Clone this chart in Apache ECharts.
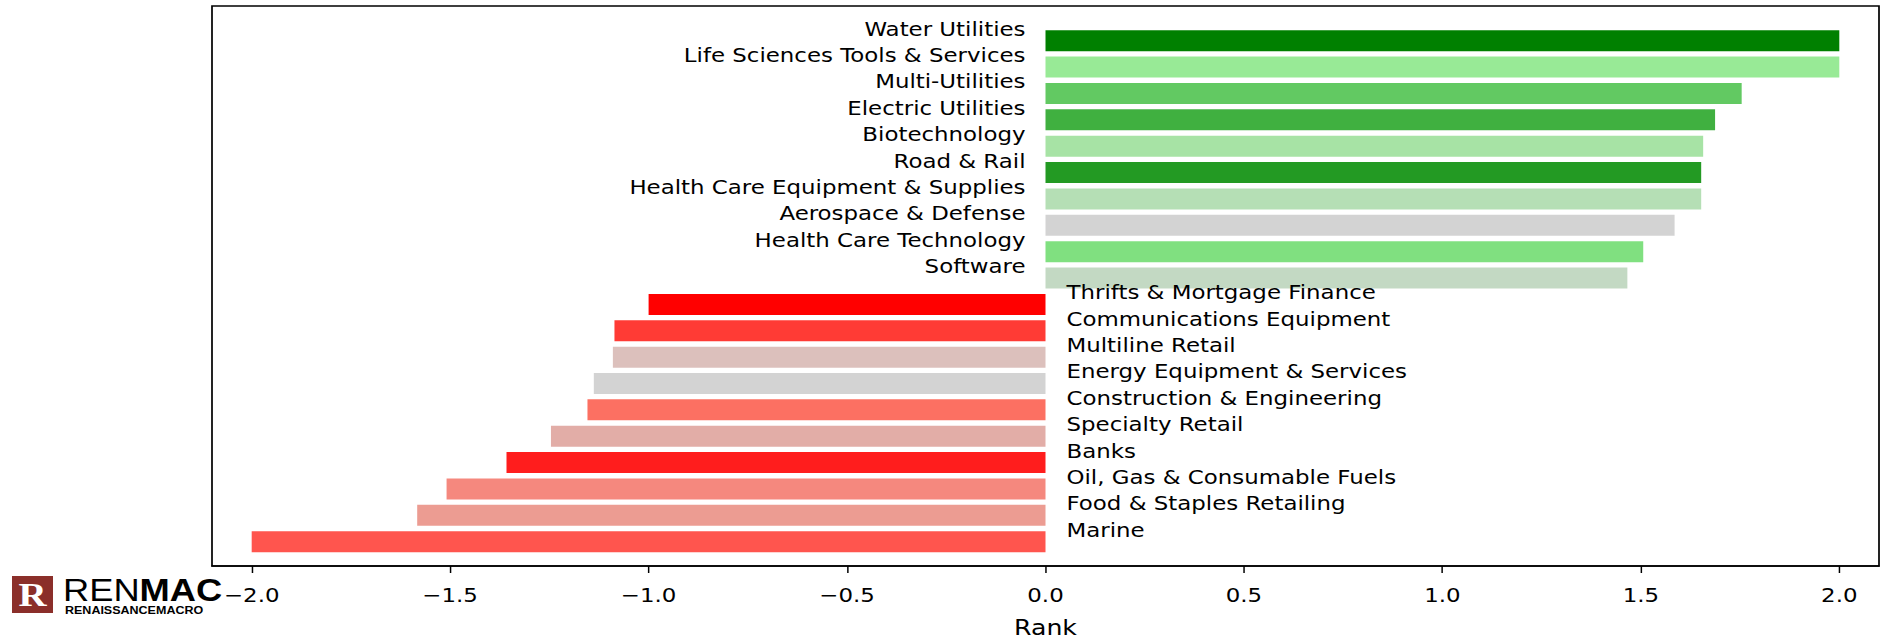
<!DOCTYPE html>
<html>
<head>
<meta charset="utf-8">
<script src="https://cdn.jsdelivr.net/npm/echarts@6/dist/echarts.min.js"></script>
<style>
html,body{margin:0;padding:0;background:#fff;overflow:hidden;}
#wrap{width:1887px;height:644px;overflow:hidden;}
#chart{height:644px;transform-origin:0 0;}
</style>
</head>
<body>
<div id="wrap"><div id="chart"></div></div>
<script>
const categories = [
  'Water Utilities', 'Life Sciences Tools & Services', 'Multi-Utilities', 'Electric Utilities',
  'Biotechnology', 'Road & Rail', 'Health Care Equipment & Supplies', 'Aerospace & Defense',
  'Health Care Technology', 'Software',
  'Thrifts & Mortgage Finance', 'Communications Equipment', 'Multiline Retail',
  'Energy Equipment & Services', 'Construction & Engineering', 'Specialty Retail', 'Banks',
  'Oil, Gas & Consumable Fuels', 'Food & Staples Retailing', 'Marine'
];
const rankValues = [
  2.0, 2.0, 1.754, 1.687, 1.657, 1.652, 1.652, 1.585, 1.506, 1.466,
  -1.0, -1.086, -1.09, -1.138, -1.154, -1.246, -1.358, -1.509, -1.583, -2.0
];
const barColors = [
  '#008000', '#98EA96', '#62C962', '#40B040', '#A7E3A5', '#239A23', '#B5DFB5', '#D3D3D3', '#80E080', '#C3D9C3',
  '#FF0000', '#FF3B35', '#DCC0BC', '#D3D3D3', '#FC7062', '#E2ADA7', '#FF1D1D', '#F5887E', '#EC9C92', '#FF554E'
];
const tickValues = [-2.0, -1.5, -1.0, -0.5, 0.0, 0.5, 1.0, 1.5, 2.0];
const axisName = 'Rank';

// The reference picture is horizontally stretched; reproduce by scaling the drawing in x.
const SX = 1.145;
const W = 1887 / SX;
const el = document.getElementById('chart');
el.style.width = W + 'px';
el.style.transform = 'scaleX(' + SX + ')';

const FONT = 'DejaVu Sans';
const chart = echarts.init(el, null, {renderer: 'svg', width: W, height: 644});
const px = v => v / SX;

const barData = rankValues.map((v, i) => ({
  value: v,
  itemStyle: {color: barColors[i]},
  label: v >= 0
    ? {show: true, position: 'left', distance: px(20), offset: [0, -12]}
    : {show: true, position: 'right', distance: px(21), offset: [0, -12]}
}));

chart.setOption({
  animation: false,
  backgroundColor: '#fff',
  grid: [
    {left: px(212), right: px(8), top: 27.5, bottom: 89.1, show: false},
    {left: px(212), right: px(8), top: 6, bottom: 70, show: true, borderColor: '#000', borderWidth: 1.5, backgroundColor: 'transparent'}
  ],
  xAxis: [
    {gridIndex: 0, type: 'value', min: -2.1, max: 2.1, show: false},
    {gridIndex: 1, type: 'value', min: -2.1, max: 2.1,
      name: axisName, nameLocation: 'middle', nameGap: 51,
      nameTextStyle: {fontFamily: FONT, fontSize: 22, color: '#000'},
      axisLine: {show: true, lineStyle: {color: '#000', width: 1.5}},
      axisTick: {show: true, customValues: tickValues, length: 7, inside: false, lineStyle: {color: '#000', width: 1.3}},
      axisLabel: {show: true, customValues: tickValues, margin: 19, fontFamily: FONT, fontSize: 20, color: '#000',
        formatter: v => v.toFixed(1).replace('-', '\u2212')},
      splitLine: {show: false}
    }
  ],
  yAxis: [
    {gridIndex: 0, type: 'category', data: categories, inverse: true, show: false},
    {gridIndex: 1, type: 'value', min: 0, max: 1, show: false}
  ],
  series: [{
    type: 'bar',
    xAxisIndex: 0, yAxisIndex: 0,
    data: barData,
    barWidth: 21,
    label: {fontFamily: FONT, fontSize: 20, color: '#000', formatter: p => p.name}
  }],
  graphic: [
    {type: 'rect', shape: {x: px(12), y: 576, width: px(41), height: 37}, style: {fill: '#8B2F2A'}},
    {type: 'text', x: px(32.5), y: 594, style: {text: 'R', fill: '#fff', font: 'bold 34px "Liberation Serif"', align: 'center', verticalAlign: 'middle'}},
    {type: 'text', x: px(63), y: 574, scaleX: 1.17 / SX, style: {
      text: '{a|REN}{b|MAC}',
      rich: {
        a: {fontFamily: 'Liberation Sans', fontSize: 31, color: '#8C3A33'},
        b: {fontFamily: 'Liberation Sans', fontSize: 31, color: '#858585', fontWeight: 'bold'}
      }
    }},
    {type: 'text', x: px(65), y: 605, scaleX: 1.25 / SX, style: {
      text: '{a|RENAISSANCE}{b|MACRO}',
      rich: {
        a: {fontFamily: 'Liberation Sans', fontSize: 10, color: '#B06A63', fontWeight: 'bold'},
        b: {fontFamily: 'Liberation Sans', fontSize: 10, color: '#999', fontWeight: 'bold'}
      }
    }}
  ]
});
</script>
</body>
</html>
